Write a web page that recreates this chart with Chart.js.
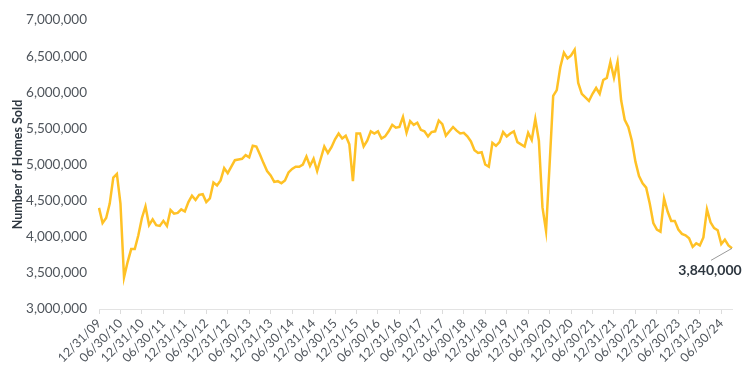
<!DOCTYPE html>
<html>
<head>
<meta charset="utf-8">
<script src="https://cdn.jsdelivr.net/npm/chart.js@4"></script>
<style>
  html, body { margin: 0; padding: 0; background: #fff; }
  #wrap { width: 750px; height: 371px; position: relative; }
</style>
</head>
<body>
<div id="wrap"><canvas id="homesChart"></canvas></div>
<script>
// ── Data ──
// month-end labels, 12/31/09 through 09/30/24
const startYear = 2009, startMonth = 12, monthCount = 178;
const dateLabels = [];
for (let i = 0; i < monthCount; i++) {
  const m = ((startMonth - 1 + i) % 12) + 1;
  const y = startYear + Math.floor((startMonth - 1 + i) / 12);
  const d = new Date(y, m, 0).getDate();
  dateLabels.push(String(m).padStart(2, '0') + '/' + d + '/' + String(y).slice(2));
}

// homes sold (millions, annualised)
const homesSold = [
  4.40, 4.19, 4.26, 4.46, 4.82, 4.87, 4.46, 3.44, 3.65, 3.83, 3.83, 4.02,
  4.26, 4.42, 4.16, 4.24, 4.16, 4.15, 4.22, 4.15, 4.37, 4.32, 4.33, 4.38,
  4.35, 4.48, 4.57, 4.51, 4.58, 4.59, 4.48, 4.53, 4.75, 4.71, 4.78, 4.95,
  4.88, 4.97, 5.06, 5.07, 5.08, 5.13, 5.10, 5.26, 5.25, 5.14, 5.02, 4.91,
  4.85, 4.76, 4.77, 4.74, 4.78, 4.89, 4.94, 4.97, 4.97, 5.00, 5.11, 4.98,
  5.08, 4.91, 5.08, 5.25, 5.16, 5.24, 5.35, 5.43, 5.36, 5.40, 5.28, 4.77,
  5.43, 5.43, 5.25, 5.33, 5.46, 5.43, 5.46, 5.36, 5.39, 5.46, 5.55, 5.51,
  5.52, 5.66, 5.44, 5.60, 5.55, 5.58, 5.48, 5.46, 5.39, 5.45, 5.46, 5.61,
  5.56, 5.40, 5.46, 5.52, 5.47, 5.43, 5.44, 5.39, 5.32, 5.20, 5.16, 5.17,
  5.00, 4.97, 5.30, 5.26, 5.31, 5.45, 5.39, 5.43, 5.46, 5.31, 5.28, 5.25,
  5.44, 5.34, 5.63, 5.33, 4.41, 4.08, 5.00, 5.95, 6.03, 6.35, 6.55, 6.47,
  6.51, 6.59, 6.13, 5.98, 5.93, 5.88, 5.98, 6.06, 5.98, 6.17, 6.20, 6.42,
  6.20, 6.42, 5.89, 5.62, 5.52, 5.33, 5.04, 4.84, 4.74, 4.68, 4.46, 4.19,
  4.10, 4.07, 4.53, 4.35, 4.22, 4.22, 4.10, 4.04, 4.02, 3.98, 3.86, 3.91,
  3.88, 3.99, 4.38, 4.20, 4.12, 4.09, 3.90, 3.96, 3.88, 3.84
].map(v => Math.round(v * 1e6));

const yTicks = [3000000, 3500000, 4000000, 4500000, 5000000, 5500000, 6000000, 6500000, 7000000];
const lastLabel = '3,840,000';

// ── Callout for last point ──
const lastPointLabel = {
  id: 'lastPointLabel',
  afterDatasetsDraw(chart) {
    const meta = chart.getDatasetMeta(0);
    const pt = meta.data[meta.data.length - 1];
    const c = chart.ctx;
    c.save();
    c.strokeStyle = '#9a9a9a';
    c.lineWidth = 1;
    c.beginPath();
    c.moveTo(pt.x, pt.y);
    c.lineTo(pt.x - 21, pt.y + 12);
    c.stroke();
    c.fillStyle = '#2e3740';
    c.font = 'bold 14px Lato, sans-serif';
    c.textAlign = 'center';
    c.textBaseline = 'middle';
    c.fillText(lastLabel, pt.x - 22, pt.y + 22);
    c.restore();
  }
};

const ctx = document.getElementById('homesChart').getContext('2d');
new Chart(ctx, {
  type: 'line',
  data: {
    labels: dateLabels,
    datasets: [{
      data: homesSold,
      borderColor: '#ffc125',
      borderWidth: 2.5,
      pointRadius: 0,
      tension: 0,
      fill: false
    }]
  },
  options: {
    responsive: true,
    maintainAspectRatio: false,
    animation: false,
    layout: { padding: { top: 10, right: 18, left: 10, bottom: 0 } },
    plugins: {
      legend: { display: false },
      tooltip: { enabled: false }
    },
    scales: {
      y: {
        min: 3000000,
        max: 7000000,
        afterBuildTicks: s => { s.ticks = yTicks.map(v => ({ value: v })); },
        afterFit: s => { s.width = 89; },
        grid: { display: false, drawTicks: false },
        border: { display: false },
        ticks: {
          color: '#4f555c',
          font: { family: 'Lato', size: 13.5 },
          padding: 12,
          callback: v => v.toLocaleString('en-US')
        },
        title: {
          display: true,
          text: 'Number of Homes Sold',
          color: '#2e3740',
          font: { family: 'Lato', size: 12.5, weight: 'bold' },
          padding: { top: 0, bottom: 0 }
        }
      },
      x: {
        afterFit: s => { s.height = 62; },
        grid: {
          drawOnChartArea: false,
          tickLength: 5,
          color: c => (c.index % 6 === 0 ? '#dcdcdc' : 'rgba(0,0,0,0)')
        },
        border: { color: '#e3e3e3' },
        ticks: {
          autoSkip: false,
          maxRotation: 45,
          minRotation: 45,
          color: '#4f555c',
          font: { family: 'Lato', size: 12.5 },
          padding: 2,
          callback: function(v, i) { return i % 6 === 0 ? this.getLabelForValue(v) : ''; }
        }
      }
    }
  },
  plugins: [lastPointLabel]
});
</script>
</body>
</html>
